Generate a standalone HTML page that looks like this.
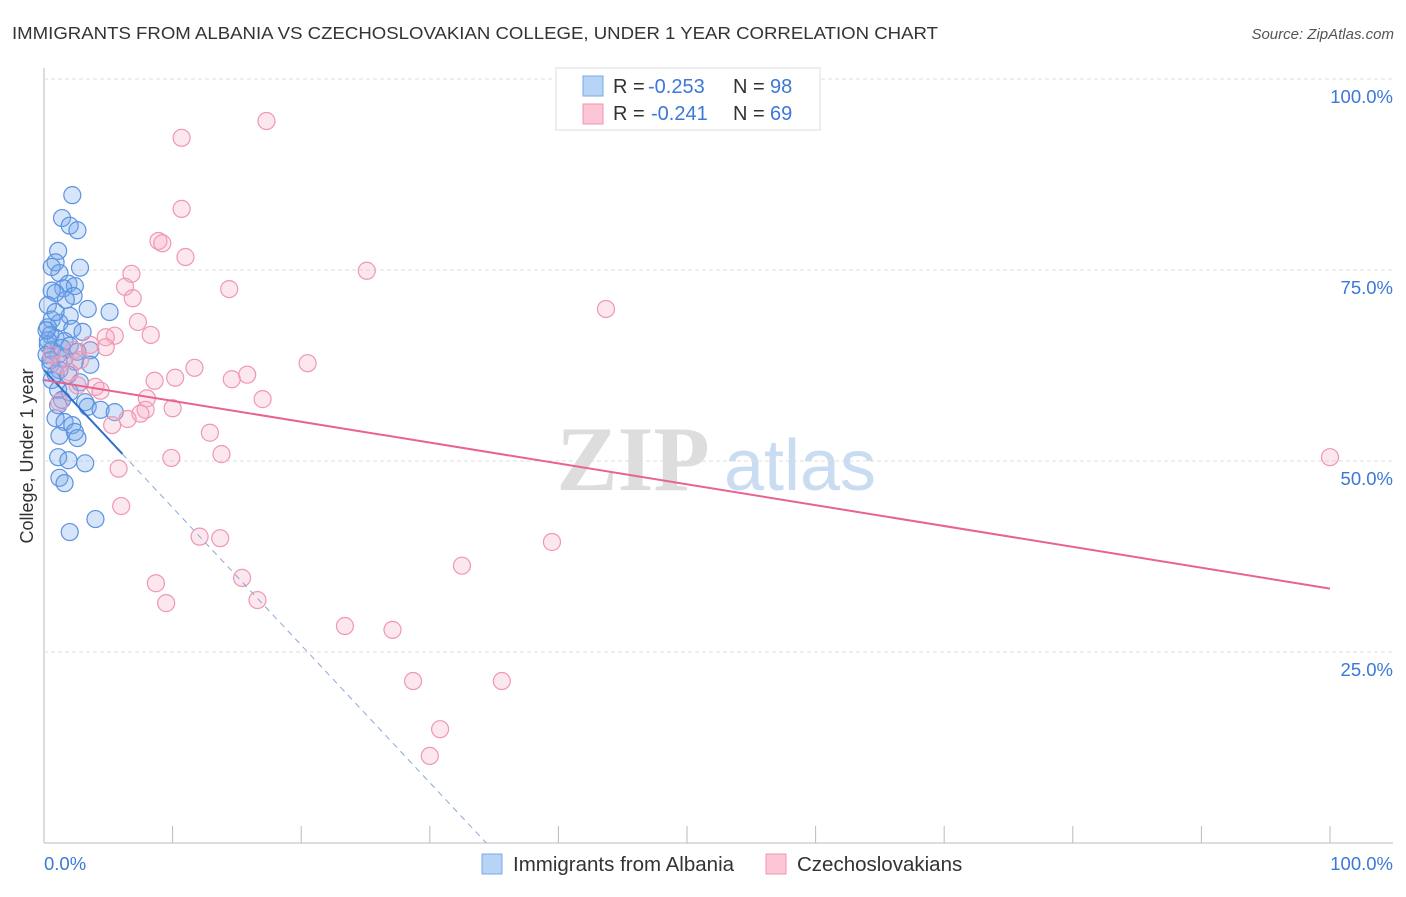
<!DOCTYPE html>
<html><head><meta charset="utf-8"><style>
body{margin:0;background:#fff;font-family:"Liberation Sans",sans-serif;}
</style></head><body>
<svg id="chart" width="1406" height="892" xmlns="http://www.w3.org/2000/svg">
<text x="12" y="39" font-size="17.5" fill="#333" textLength="926" lengthAdjust="spacingAndGlyphs">IMMIGRANTS FROM ALBANIA VS CZECHOSLOVAKIAN COLLEGE, UNDER 1 YEAR CORRELATION CHART</text>
<text x="1394" y="39" font-size="15" fill="#555" font-style="italic" text-anchor="end">Source: ZipAtlas.com</text>
<g>
<text x="633" y="490" font-size="92" fill="#ddd" text-anchor="middle" font-family="Liberation Serif,serif" font-weight="bold">ZIP</text>
<text x="800" y="490" font-size="72" fill="#c9dcf2" text-anchor="middle">atlas</text>
</g>
<g id="grid"></g>
<g id="marks"></g>
<text x="33" y="456" font-size="18" fill="#333" text-anchor="middle" transform="rotate(-90 33 456)">College, Under 1 year</text>
<g>
<rect x="556" y="68" width="264" height="62" fill="#fff" stroke="#ddd"/>
<rect x="583" y="76" width="20" height="20" fill="#b7d3f5" stroke="#7aa8e6"/>
<rect x="583" y="104" width="20" height="20" fill="#fcc6d6" stroke="#ee94b0"/>
<g font-size="20" fill="#333">
<text x="613" y="93">R =</text><text x="648" y="93" fill="#3b78d8">-0.253</text>
<text x="733" y="93">N =</text><text x="770" y="93" fill="#3b78d8">98</text>
<text x="613" y="120">R =</text><text x="651" y="120" fill="#3b78d8">-0.241</text>
<text x="733" y="120">N =</text><text x="770" y="120" fill="#3b78d8">69</text>
</g>
</g>
<g>
<rect x="482" y="854" width="20" height="20" fill="#b7d3f5" stroke="#7aa8e6"/>
<text x="513" y="871" font-size="20.5" fill="#333">Immigrants from Albania</text>
<rect x="766" y="854" width="20" height="20" fill="#fcc6d6" stroke="#ee94b0"/>
<text x="797" y="871" font-size="20.5" fill="#333">Czechoslovakians</text>
</g>
</svg>
<script>
const blueX=[2.2,1.4,2.0,2.6,1.1,0.9,0.6,2.8,1.2,1.9,2.4,1.5,0.6,0.9,2.3,0.3,3.4,5.1,2.0,0.6,1.2,0.3,2.2,3.0,0.5,0.9,1.6,0.3,2.0,0.6,3.6,1.1,1.6,2.4,0.5,3.6,1.2,0.9,1.9,0.6,2.8,1.1,2.0,1.4,3.2,1.1,3.4,4.4,5.5,0.9,1.6,2.2,2.4,1.2,2.6,1.1,1.9,3.2,1.2,1.6,4.0,2.0,0.3,0.2,0.2,0.9,1.7,0.5,1.4,2.6];
const blueY=[84.8,81.8,80.8,80.2,77.5,76.0,75.4,75.3,74.6,73.2,72.9,72.6,72.3,72.0,71.6,70.4,69.9,69.5,69.0,68.5,68.1,67.5,67.3,66.9,66.5,66.1,65.7,65.2,65.1,64.5,64.5,63.9,63.5,63.0,62.6,62.6,61.9,61.4,61.3,60.6,60.3,59.3,59.0,58.0,57.7,57.3,57.1,56.7,56.4,55.6,55.1,54.7,53.8,53.3,53.0,50.5,50.1,49.7,47.8,47.1,42.4,40.7,65.8,67.1,63.9,69.5,71.1,63.2,64.8,64.3];
const pinkX=[17.3,10.7,10.7,8.9,9.2,11.0,6.8,25.1,14.4,6.3,6.9,43.7,7.3,8.3,5.5,4.8,3.6,4.8,2.3,20.5,11.7,10.2,8.6,15.8,14.6,2.6,4.0,4.4,8.0,17.0,1.2,7.9,7.5,10.0,6.5,5.3,12.9,9.9,13.8,5.8,6.0,12.1,13.7,39.5,32.5,15.4,8.7,16.6,9.5,23.4,27.1,28.7,35.6,30.8,30.0,100,1.2,2.0,2.8,0.6];
const pinkY=[94.5,92.3,83.0,78.8,78.5,76.7,74.5,74.9,72.5,72.8,71.3,69.9,68.2,66.5,66.4,66.2,65.2,64.9,64.5,62.8,62.2,60.9,60.5,61.3,60.7,59.9,59.7,59.2,58.2,58.1,57.7,56.7,56.2,56.9,55.5,54.7,53.7,50.4,50.9,49.0,44.1,40.1,39.9,39.4,36.3,34.7,34.0,31.8,31.4,28.4,27.9,21.2,21.2,14.9,11.4,50.5,62.6,61.6,63.2,63.9];
const pinkTrend=[60.6,33.3];
const blueTrend=[61.9,-118.1];
const yTicks=[25,50,75,100];
const yTickLabels=["25.0%","50.0%","75.0%","100.0%"];
const xTicks=[0,10,20,30,40,50,60,70,80,90,100];
const NS="http://www.w3.org/2000/svg";
const sx=v=>44+v*12.86, sy=v=>843-v*7.64;
function mk(tag,attrs,parent){const e=document.createElementNS(NS,tag);for(const k in attrs)e.setAttribute(k,attrs[k]);parent.appendChild(e);return e;}
const grid=document.getElementById('grid'), marks=document.getElementById('marks');
let ax=mk('line',{x1:44,y1:68,x2:44,y2:843,stroke:'#bbb'},grid);


let bx=mk('line',{x1:44,y1:843,x2:1393,y2:843,stroke:'#bbb'},grid);


yTicks.forEach((t,i)=>{
 let g=mk('line',{x1:44,y1:sy(t),x2:1393,y2:sy(t),stroke:'#ddd','stroke-dasharray':'4,3'},grid);
 
 
 let l=mk('text',{x:1393,y:sy(t)+24,'font-size':18.5,fill:'#3b78d8','text-anchor':'end'},grid);
 l.textContent=yTickLabels[i];
 
 
});
xTicks.forEach(t=>{
 let k=mk('line',{x1:sx(t),y1:826,x2:sx(t),y2:843,stroke:'#bbb'},grid);
 
 
});
let x0=mk('text',{x:44,y:870,'font-size':18.5,fill:'#3b78d8'},grid);x0.textContent='0.0%';


let x1=mk('text',{x:1393,y:870,'font-size':18.5,fill:'#3b78d8','text-anchor':'end'},grid);x1.textContent='100.0%';


blueX.forEach((x,i)=>{
 let c=mk('circle',{cx:sx(x),cy:sy(blueY[i]),r:8.5,fill:'rgba(120,170,235,0.3)',stroke:'#5b93e0','stroke-width':1.2},marks);
 
 
});
pinkX.forEach((x,i)=>{
 let c=mk('circle',{cx:sx(x),cy:sy(pinkY[i]),r:8.5,fill:'rgba(248,170,195,0.28)',stroke:'#ef97b3','stroke-width':1.2},marks);
 
 
});
const bAt=x=>blueTrend[0]+(blueTrend[1]-blueTrend[0])*x/100;
let bs=mk('line',{x1:sx(0),y1:sy(bAt(0)),x2:sx(6.1),y2:sy(bAt(6.1)),stroke:'#2f6fd0','stroke-width':2},marks);


let bd=mk('line',{x1:sx(6.1),y1:sy(bAt(6.1)),x2:sx(34.4),y2:sy(bAt(34.4)),stroke:'#8aa8d8','stroke-width':1,'stroke-dasharray':'6,5'},marks);


let pt=mk('line',{x1:sx(0),y1:sy(pinkTrend[0]),x2:sx(100),y2:sy(pinkTrend[1]),stroke:'#e8638f','stroke-width':2},marks);


</script>
</body></html>
